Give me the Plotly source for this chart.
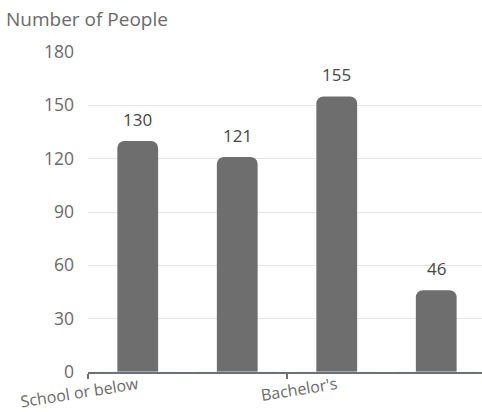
import plotly.graph_objects as go

# Education level counts
categories = ["School or below", "Diploma", "Bachelor's", "Master's or above"]
people = [130, 121, 155, 46]
y_ticks = [0, 30, 60, 90, 120, 150, 180]

bar_color = "#6e6e6e"
axis_gray = "#6e7079"
label_gray = "#6a6a6a"
font_family = "Open Sans, Noto Sans, sans-serif"

fig = go.Figure(
    go.Bar(
        x=categories,
        y=people,
        width=0.41,
        marker=dict(color=bar_color, cornerradius=7, line=dict(width=0)),
        cliponaxis=False,
        hoverinfo="x+y",
    )
)

# Value labels sitting above each bar
for cat, val in zip(categories, people):
    fig.add_annotation(
        x=cat, y=val, text=str(val), showarrow=False,
        yanchor="bottom", yshift=8,
        font=dict(family=font_family, size=17, color="#464646"),
    )

# Horizontal axis title at the top-left
fig.add_annotation(
    xref="paper", yref="paper", x=-0.213, y=1.0, yshift=33,
    xanchor="left", yanchor="middle", showarrow=False,
    text="Number of People",
    font=dict(family=font_family, size=19, color=label_gray),
)

fig.update_layout(
    width=482,
    height=412,
    margin=dict(l=88, r=0, t=52, b=40, autoexpand=False),
    plot_bgcolor="white",
    paper_bgcolor="white",
    showlegend=False,
    font=dict(family=font_family, color=label_gray),
)

x_range = [-0.5, 3.46]

# Primary x axis: baseline and boundary ticks, no labels
fig.update_layout(
    xaxis=dict(
        type="category",
        categoryorder="array",
        categoryarray=categories,
        range=x_range,
        tickmode="linear",
        tick0=0,
        dtick=2,
        tickson="boundaries",
        ticks="outside",
        ticklen=5,
        tickwidth=1.5,
        tickcolor=axis_gray,
        showticklabels=False,
        showline=True,
        linecolor=axis_gray,
        linewidth=1.5,
        showgrid=False,
        zeroline=False,
        automargin=False,
    ),
    # Overlaid x axis carrying only the slanted category labels
    xaxis2=dict(
        type="category",
        categoryorder="array",
        categoryarray=categories,
        overlaying="x",
        matches="x",
        side="bottom",
        range=x_range,
        tickmode="linear",
        tick0=0,
        dtick=2,
        ticks="",
        tickangle=-9,
        tickfont=dict(family=font_family, size=16, color=label_gray),
        showline=False,
        showgrid=False,
        zeroline=False,
        automargin=False,
    ),
)

# Invisible companion trace so the label axis is laid out
fig.add_trace(
    go.Bar(x=categories, y=[0] * len(categories), xaxis="x2",
           marker=dict(color="rgba(0,0,0,0)"), hoverinfo="skip",
           showlegend=False)
)

fig.update_yaxes(
    range=[0, 180],
    tickmode="array",
    tickvals=y_ticks,
    ticktext=[str(v) for v in y_ticks],
    tickfont=dict(family=font_family, size=17.5, color=label_gray),
    ticklabelstandoff=13,
    showgrid=True,
    gridcolor="#e4e4e4",
    gridwidth=1,
    zeroline=False,
    showline=False,
    ticks="",
    automargin=False,
)

fig.write_html("out.html")
